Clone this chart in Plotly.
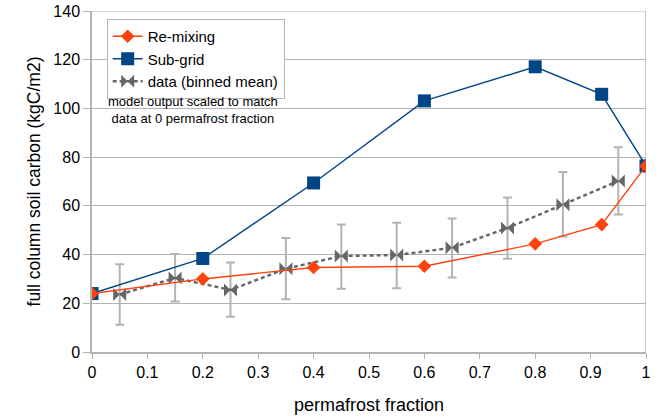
import plotly.graph_objects as go

model_x = [0, 0.2, 0.4, 0.6, 0.8, 0.92, 1.0]
remixing = [24, 30, 34.7, 35.2, 44.4, 52.3, 76.4]
subgrid = [24, 38.4, 69.4, 103.1, 117.1, 105.8, 76.4]

data_x = [0.05, 0.15, 0.25, 0.35, 0.45, 0.55, 0.65, 0.75, 0.85, 0.95]
data_mean = [23.6, 30.4, 25.5, 34.2, 39.4, 39.8, 42.8, 50.9, 60.5, 70.2]
data_hi = [36.0, 40.2, 36.7, 46.8, 52.3, 53.1, 54.8, 63.4, 73.9, 84.1]
data_lo = [11.2, 20.7, 14.5, 21.7, 26.0, 26.2, 30.6, 38.3, 47.4, 56.5]

x_ticks = [0, 0.1, 0.2, 0.3, 0.4, 0.5, 0.6, 0.7, 0.8, 0.9, 1]
x_tick_labels = ["0", "0.1", "0.2", "0.3", "0.4", "0.5", "0.6", "0.7", "0.8", "0.9", "1"]
y_ticks = [0, 20, 40, 60, 80, 100, 120, 140]

note_text = "model output scaled to match<br>data at 0 permafrost fraction"

err_plus = [h - m for h, m in zip(data_hi, data_mean)]
err_minus = [m - l for m, l in zip(data_mean, data_lo)]

FONT = "Liberation Sans, Arial, sans-serif"

fig = go.Figure()
fig.add_trace(go.Scatter(
    x=data_x, y=data_mean, name="data (binned mean)", mode="lines+markers",
    line=dict(color="#666666", width=2.4, dash="4px,3px"),
    marker=dict(symbol="bowtie", size=13, color="#666666"),
    error_y=dict(type="data", array=err_plus, arrayminus=err_minus,
                 color="#b3b3b3", thickness=2, width=4.5, visible=True),
    legendrank=3,
))
fig.add_trace(go.Scatter(
    x=model_x, y=subgrid, name="Sub-grid", mode="lines+markers",
    line=dict(color="#004586", width=1.4),
    marker=dict(symbol="square", size=13, color="#004586"),
    legendrank=2,
))
fig.add_trace(go.Scatter(
    x=model_x, y=remixing, name="Re-mixing", mode="lines+markers",
    line=dict(color="#ff420e", width=1.4),
    marker=dict(symbol="diamond", size=10.5, color="#ff420e"),
    legendrank=1,
))

fig.add_annotation(
    x=0.182, y=99.3, xref="x", yref="y", text=note_text,
    showarrow=False, font=dict(family=FONT, size=13, color="#000000"),
    align="center", borderpad=0,
)

fig.update_layout(
    width=659, height=418,
    margin=dict(l=92, r=13, t=11, b=66),
    plot_bgcolor="white", paper_bgcolor="white",
    font=dict(family=FONT, color="#000000"),
    showlegend=True,
    legend=dict(
        x=0.0265, y=0.9765, xanchor="left", yanchor="top",
        bgcolor="white", bordercolor="#b3b3b3", borderwidth=1,
        font=dict(family=FONT, size=15), itemwidth=30,
        tracegroupgap=0, traceorder="normal",
    ),
)
fig.update_xaxes(
    range=[0, 1], tickvals=x_ticks, ticktext=x_tick_labels,
    showgrid=False, zeroline=False, automargin=False,
    showline=True, linecolor="#b3b3b3", linewidth=1.5, mirror=False,
    ticks="outside", ticklen=5, tickcolor="#b3b3b3",
    tickfont=dict(size=16, family=FONT), ticklabeloverflow="allow",
    title=dict(text="permafrost fraction", font=dict(size=18, family=FONT), standoff=18),
)
fig.update_yaxes(
    range=[0, 140], tickvals=y_ticks,
    showgrid=True, gridcolor="#b3b3b3", gridwidth=1.2, zeroline=False, automargin=False,
    showline=True, linecolor="#b3b3b3", linewidth=1.5,
    ticks="outside", ticklen=7, tickcolor="#b3b3b3",
    tickfont=dict(size=16, family=FONT), ticklabeloverflow="allow",
    title=dict(text="full column soil carbon (kgC/m2)", font=dict(size=17.5, family=FONT), standoff=8),
)
# right border at x=1 and top line at 140
fig.add_shape(type="line", xref="x", yref="paper", x0=1, x1=1, y0=0, y1=1,
              line=dict(color="#b3b3b3", width=1.5), layer="below")
fig.add_shape(type="line", xref="paper", yref="y", x0=0, x1=1, y0=y_ticks[-1], y1=y_ticks[-1],
              line=dict(color="#b3b3b3", width=1.2), layer="below")

fig.write_html("out.html", config={"displayModeBar": False},
               post_script="document.body.style.margin='0';document.body.style.overflow='hidden';")
